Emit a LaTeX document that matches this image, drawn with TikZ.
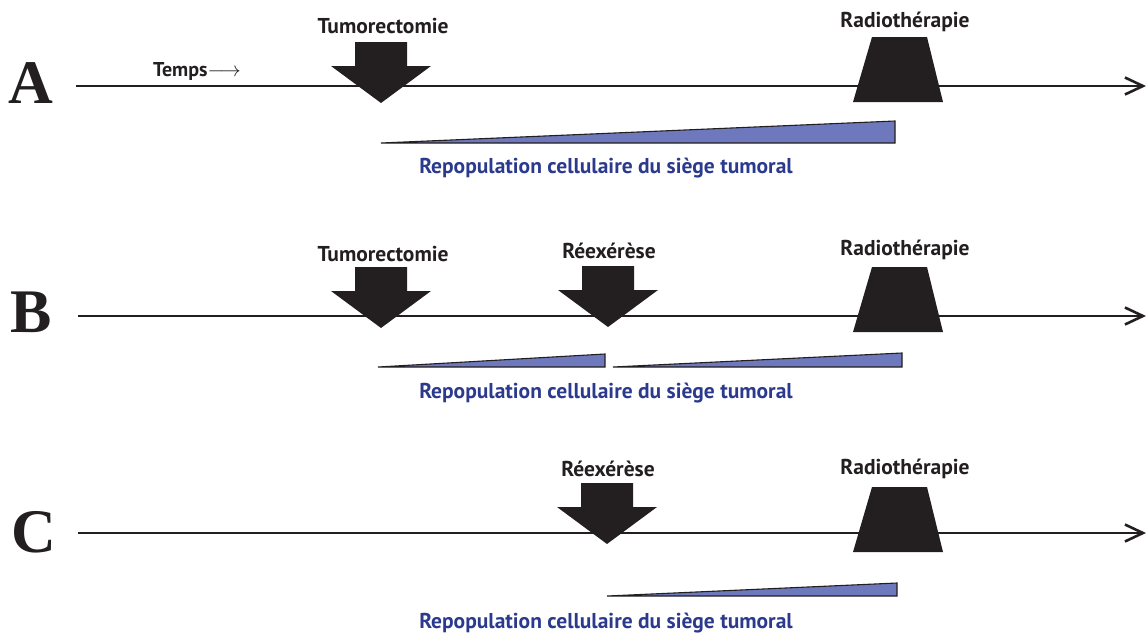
\documentclass[tikz,border=0pt]{standalone}
\usepackage{fontspec}
\setmainfont{Liberation Serif}
\newfontfamily\labelfont{PT Sans}
\usetikzlibrary{arrows.meta}
\definecolor{ink}{HTML}{231F20}
\definecolor{wedgeblue}{HTML}{6E78BC}
\definecolor{repoblue}{HTML}{2B3A8C}

\begin{document}
\begin{tikzpicture}[x=1pt,y=-1pt,
  timeline/.style={draw=ink,line width=2.6pt,-{Straight Barb[length=18pt,width=17pt]}},
  rowletter/.style={anchor=base,text=ink,inner sep=0pt,font=\bfseries\fontsize{62}{62}\selectfont},
  steplabel/.style={anchor=base,text=ink,inner sep=0pt,font=\labelfont\bfseries\fontsize{21.5}{21.5}\selectfont},
  repolabel/.style={anchor=base,text=repoblue,inner sep=0pt,font=\labelfont\bfseries\fontsize{21.5}{21.5}\selectfont},
  wedge/.style={fill=wedgeblue,draw=ink,line width=1.1pt,line join=miter}]
\useasboundingbox (0,0) rectangle (1146,635);

% Row letters and time axes
\node[rowletter] (rowA) at (31,103) {A};
\node[rowletter] (rowB) at (31,332) {B};
\node[rowletter] (rowC) at (34,552) {C};
\coordinate (startA) at (76,86);   \coordinate (endA) at (1146,86);
\coordinate (startB) at (78,316);  \coordinate (endB) at (1146,316);
\coordinate (startC) at (78,533);  \coordinate (endC) at (1146,533);
\draw[timeline] (startA) -- (endA);
\draw[timeline] (startB) -- (endB);
\draw[timeline] (startC) -- (endC);
\node[anchor=base west,text=ink,inner sep=0pt,font=\labelfont\bfseries\fontsize{20}{20}\selectfont] (temps) at (153,76) {Temps$\longrightarrow$};

% Surgery arrows (centre x / top y)
\foreach \x/\t in {381/42, 381/267, 608/266, 607/483}
  \fill[ink] (\x-26,\t) -- (\x+26,\t) -- (\x+26,\t+24) -- (\x+50,\t+24)
    -- (\x,\t+61) -- (\x-50,\t+24) -- (\x-26,\t+24) -- cycle;

% Radiotherapy blocks (top y)
\foreach \t in {37, 267, 487}
  \fill[ink] (872,\t) -- (927,\t) -- (943,\t+65) -- (853,\t+65) -- cycle;

% Step labels
\node[steplabel] (tumA) at (383,33) {Tumorectomie};
\node[steplabel] (radA) at (905,27) {Radiothérapie};
\node[steplabel] (tumB) at (383,261) {Tumorectomie};
\node[steplabel] (reeB) at (609,258) {Réexérèse};
\node[steplabel] (radB) at (905,255) {Radiothérapie};
\node[steplabel] (reeC) at (608,476) {Réexérèse};
\node[steplabel] (radC) at (905,474) {Radiothérapie};

% Repopulation wedges
\filldraw[wedge] (381,143) -- (895,143) -- (895,121) -- cycle;
\filldraw[wedge] (378,367) -- (605,367) -- (605,354) -- cycle;
\filldraw[wedge] (613,367) -- (902,367) -- (902,353) -- cycle;
\filldraw[wedge] (607,596) -- (897,596) -- (897,583) -- cycle;
\node[repolabel] (repoA) at (606,173) {Repopulation cellulaire du siège tumoral};
\node[repolabel] (repoB) at (606,398) {Repopulation cellulaire du siège tumoral};
\node[repolabel] (repoC) at (606,628) {Repopulation cellulaire du siège tumoral};
\end{tikzpicture}
\end{document}
